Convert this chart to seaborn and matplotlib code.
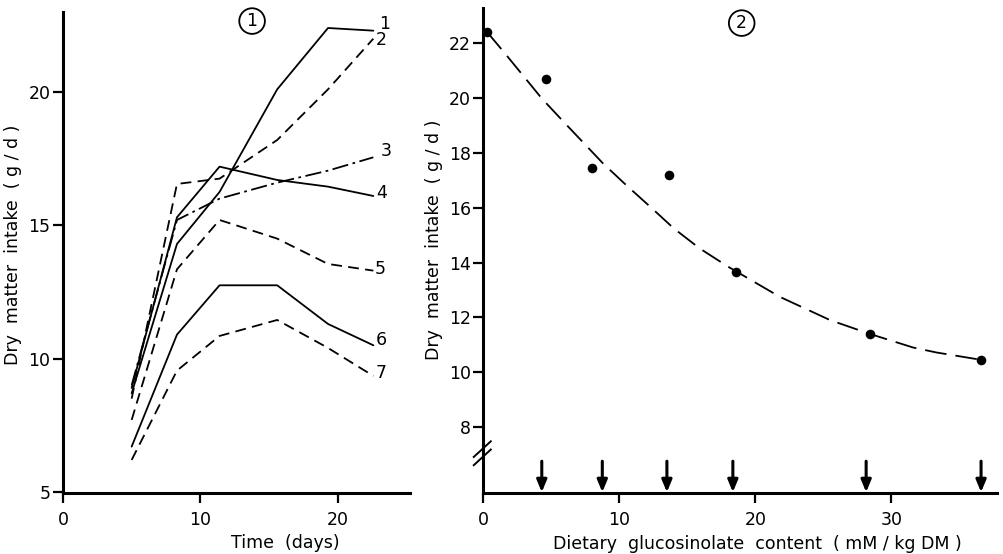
import matplotlib
matplotlib.use("Agg")
import matplotlib.pyplot as plt
import pandas as pd
import seaborn as sns

# ---- Panel 1: intake over time for seven diets ----
days = [5.0, 8.3, 11.4, 15.6, 19.3, 22.6]
diet_labels = ["1", "2", "3", "4", "5", "6", "7"]
intake_1 = [8.7, 14.3, 16.25, 20.1, 22.4, 22.3]
intake_2 = [8.5, 16.55, 16.75, 18.2, 20.1, 22.0]
intake_3 = [9.0, 15.2, 16.0, 16.6, 17.05, 17.55]
intake_4 = [8.9, 15.3, 17.2, 16.7, 16.45, 16.1]
intake_5 = [7.7, 13.35, 15.2, 14.5, 13.55, 13.3]
intake_6 = [6.7, 10.9, 12.75, 12.75, 11.3, 10.5]
intake_7 = [6.2, 9.55, 10.85, 11.45, 10.4, 9.35]

# ---- Panel 2: mean intake vs dietary glucosinolate ----
glucosinolate = [0.3, 4.6, 8.0, 13.65, 18.6, 28.4, 36.6]
mean_intake = [22.4, 20.7, 17.45, 17.2, 13.65, 11.4, 10.45]
diet_levels = [4.3, 8.75, 13.5, 18.35, 28.15, 36.6]
fit_x = [0.3, 1.5, 4.3, 5.9, 8.8, 10.5, 12.4, 14.0, 15.9, 18.0,
         21.8, 25.5, 28.4, 31.6, 33.3, 36.6]
fit_y = [22.4, 21.69, 19.99, 19.14, 17.62, 16.83, 15.98, 15.25, 14.52, 13.85,
         12.75, 11.9, 11.4, 10.9, 10.72, 10.45]

sns.set_theme(style="ticks")
plt.rcParams["font.family"] = ["DejaVu Sans"]
plt.rcParams["text.color"] = "black"
plt.rcParams["axes.labelcolor"] = "black"

W, H = 1004, 554
fig = plt.figure(figsize=(W / 100, H / 100), dpi=100)
fig.patch.set_facecolor("white")

ax1 = fig.add_axes([63 / W, 1 - 493 / H, (410 - 63) / W, (493 - 12) / H])
ax2 = fig.add_axes([483.3 / W, 1 - 493 / H, (996.7 - 483.3) / W, (493 - 8.3) / H])

long = pd.DataFrame({
    "day": days * 7,
    "intake": intake_1 + intake_2 + intake_3 + intake_4 + intake_5 + intake_6 + intake_7,
    "diet": [d for d in diet_labels for _ in days],
})
dash_map = {
    "1": "", "2": (6, 3.5), "3": (9, 2.5, 1.5, 2.5), "4": "",
    "5": (6, 3.5), "6": "", "7": (6, 3.5),
}
sns.lineplot(data=long, x="day", y="intake", style="diet", dashes=dash_map,
             color="black", linewidth=1.3, legend=False, estimator=None,
             sort=False, ax=ax1)

ends = {"1": (23.45, 22.55), "2": (23.15, 21.95), "3": (23.55, 17.8),
        "4": (23.2, 16.2), "5": (23.1, 13.35), "6": (23.2, 10.7), "7": (23.2, 9.45)}
for lab, (tx, ty) in ends.items():
    ax1.text(tx, ty, lab, ha="center", va="center", fontsize=12.5, color="black")

ax1.text(13.77, 22.66, "1", ha="center", va="center", fontsize=12.5, color="black",
         bbox=dict(boxstyle="circle,pad=0.22", fc="white", ec="black", lw=1.3))

ax1.set_xlim(0, 25.27)
ax1.set_ylim(4.96, 23.0)
ax1.set_xticks([0, 10, 20])
ax1.set_yticks([5, 10, 15, 20])
ax1.set_xlabel("Time  (days)", fontsize=12.5, color="black")
ax1.set_ylabel("Dry  matter  intake  ( g / d )", fontsize=12.5, color="black")
ax1.xaxis.set_label_coords((285 - 63) / 347, (493 - 534) / 481)
ax1.yaxis.set_label_coords((22 - 63) / 347, (493 - 245) / 481)

# fitted response curve and observed means
sns.lineplot(x=fit_x, y=fit_y, color="black", linewidth=1.3, ax=ax2, sort=False,
             estimator=None, dashes=False, linestyle=(0, (12, 5)))
sns.scatterplot(x=glucosinolate, y=mean_intake, color="black", s=48,
                edgecolor="black", linewidth=0, ax=ax2, zorder=3)

for c in diet_levels:
    ax2.annotate("", xy=(c, 5.62), xytext=(c, 6.75),
                 arrowprops=dict(arrowstyle="-|>,head_length=0.6,head_width=0.25",
                                 lw=2.2, color="black", shrinkA=0, shrinkB=0,
                                 mutation_scale=12))

ax2.text(19.0, 22.74, "2", ha="center", va="center", fontsize=12.5, color="black",
         bbox=dict(boxstyle="circle,pad=0.22", fc="white", ec="black", lw=1.3))

ax2.set_xlim(0, 37.75)
ax2.set_ylim(5.59, 23.28)
ax2.set_xticks([0, 10, 20, 30])
ax2.set_yticks([8, 10, 12, 14, 16, 18, 20, 22])
ax2.set_xlabel("Dietary  glucosinolate  content  ( mM / kg DM )", fontsize=12.5,
               color="black")
ax2.set_ylabel("Dry  matter  intake  ( g / d )", fontsize=12.5, color="black")
ax2.xaxis.set_label_coords((757 - 483.3) / 513.4, (493 - 535) / 484.7)
ax2.yaxis.set_label_coords((443 - 483.3) / 513.4, (493 - 240) / 484.7)

# axis-break marks on the intake axis
for dy in (0.0, -0.017):
    ax2.plot([-0.02, 0.016], [0.073 + dy, 0.108 + dy], transform=ax2.transAxes,
             color="black", lw=1.4, clip_on=False, solid_capstyle="butt")

for ax in (ax1, ax2):
    sns.despine(ax=ax)
    for side in ("left", "bottom"):
        ax.spines[side].set_linewidth(2.2)
        ax.spines[side].set_color("black")
    ax.tick_params(axis="both", direction="out", length=7, width=1.6,
                   colors="black", labelsize=12.5)
    ax.tick_params(axis="y", pad=2)
    ax.tick_params(axis="x", pad=6)
    ax.set_facecolor("white")
    ax.grid(False)

fig.savefig("out.png", dpi=100, facecolor="white")
